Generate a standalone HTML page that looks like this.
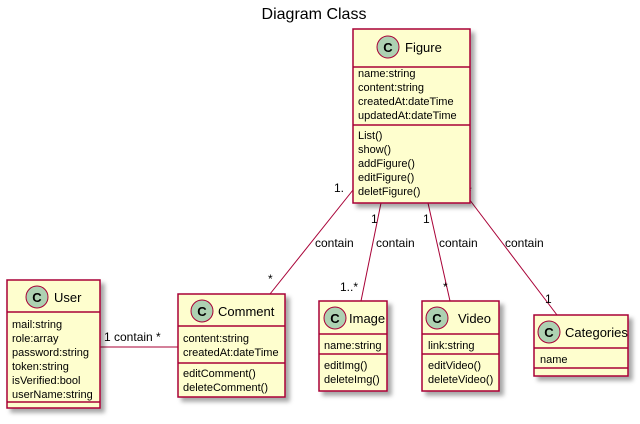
<!DOCTYPE html>
<html><head><style>body{margin:0;background:#fff}svg{display:block}text{font-family:"Liberation Sans",sans-serif}</style></head><body>
<svg width="640" height="424" xmlns="http://www.w3.org/2000/svg">
<defs><filter id="s" x="-10%" y="-10%" width="130%" height="130%"><feDropShadow dx="4" dy="4" stdDeviation="2" flood-color="#000" flood-opacity="0.35"/></filter></defs>
<text x="314" y="19" font-size="16" text-anchor="middle">Diagram Class</text>
<g stroke="#A80036" stroke-width="1" fill="none">
<line x1="353" y1="190" x2="270" y2="294"/>
<line x1="381" y1="203" x2="361" y2="301"/>
<line x1="428" y1="203" x2="450" y2="301"/>
<line x1="466" y1="195" x2="557" y2="315"/>
<line x1="100" y1="347" x2="178" y2="347"/>
</g>
<g font-size="12" fill="#000">
<text x="334" y="192">1.</text><text x="268" y="283">*</text><text x="315" y="247">contain</text>
<text x="371" y="223">1</text><text x="340" y="291">1..*</text><text x="376" y="247">contain</text>
<text x="423" y="223">1</text><text x="443" y="291">*</text><text x="439" y="247">contain</text>
<text x="467" y="195">*</text><text x="545" y="303">1</text><text x="505" y="247">contain</text>
<text x="104" y="341">1 contain *</text>
</g>
<g fill="#FEFECE" stroke="#A80036" stroke-width="1.5" filter="url(#s)">
<rect x="353" y="29" width="117" height="174"/>
<rect x="7" y="280" width="93" height="128"/>
<rect x="178" y="294" width="107" height="103"/>
<rect x="319" y="301" width="68" height="90"/>
<rect x="422" y="301" width="77" height="90"/>
<rect x="534" y="315" width="94" height="61"/>
</g>
<g stroke="#A80036" stroke-width="1.5">
<line x1="353" y1="67" x2="470" y2="67"/><line x1="353" y1="125" x2="470" y2="125"/>
<line x1="7" y1="312" x2="100" y2="312"/><line x1="7" y1="402" x2="100" y2="402"/>
<line x1="178" y1="326" x2="285" y2="326"/><line x1="178" y1="363" x2="285" y2="363"/>
<line x1="319" y1="334" x2="387" y2="334"/><line x1="319" y1="354" x2="387" y2="354"/>
<line x1="422" y1="334" x2="499" y2="334"/><line x1="422" y1="354" x2="499" y2="354"/>
<line x1="534" y1="348" x2="628" y2="348"/><line x1="534" y1="368" x2="628" y2="368"/>
</g>
<g fill="#ADD1B2" stroke="#A80036" stroke-width="1">
<circle cx="388" cy="47" r="11"/><circle cx="37" cy="297" r="11"/><circle cx="202" cy="311" r="11"/>
<circle cx="335" cy="318" r="11"/><circle cx="437" cy="318" r="11"/><circle cx="549" cy="332" r="11"/>
</g>
<g font-size="13" font-weight="bold" text-anchor="middle">
<text x="388" y="52">C</text><text x="37" y="302">C</text><text x="202" y="316">C</text>
<text x="335" y="323">C</text><text x="437" y="323">C</text><text x="549" y="337">C</text>
</g>
<g font-size="13">
<text x="405" y="52">Figure</text><text x="54" y="302">User</text><text x="218" y="316">Comment</text>
<text x="349" y="323">Image</text><text x="458" y="323">Video</text><text x="565" y="337">Categories</text>
</g>
<g font-size="11">
<text x="358" y="77">name:string</text><text x="358" y="91">content:string</text><text x="358" y="105">createdAt:dateTime</text><text x="358" y="119">updatedAt:dateTime</text>
<text x="358" y="139">List()</text><text x="358" y="153">show()</text><text x="358" y="167">addFigure()</text><text x="358" y="181">editFigure()</text><text x="358" y="195">deletFigure()</text>
<text x="12" y="328">mail:string</text><text x="12" y="342">role:array</text><text x="12" y="356">password:string</text><text x="12" y="370">token:string</text><text x="12" y="384">isVerified:bool</text><text x="12" y="398">userName:string</text>
<text x="183" y="342">content:string</text><text x="183" y="356">createdAt:dateTime</text>
<text x="183" y="377">editComment()</text><text x="183" y="391">deleteComment()</text>
<text x="324" y="349">name:string</text><text x="324" y="369">editImg()</text><text x="324" y="383">deleteImg()</text>
<text x="428" y="349">link:string</text><text x="428" y="369">editVideo()</text><text x="428" y="383">deleteVideo()</text>
<text x="540" y="363">name</text>
</g>
</svg>
</body></html>
